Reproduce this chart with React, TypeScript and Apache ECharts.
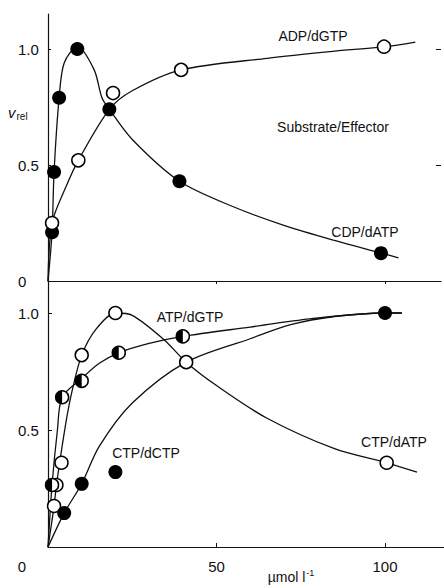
import React, { useEffect, useRef } from "react";
import * as echarts from "echarts";

// ---- Upper panel: CDP/dATP (filled) and ADP/dGTP (open) ----
const topCdpPoints = [[1.2, 0.21], [1.8, 0.47], [3.3, 0.79], [8.7, 1.0], [18.2, 0.74], [39, 0.43], [98.8, 0.12]];
const topAdpPoints = [[1.2, 0.25], [9, 0.52], [19.3, 0.81], [39.5, 0.91], [99.7, 1.01]];
const topCdpCurve = [[0, 0], [1.2, 0.21], [1.8, 0.47], [3.3, 0.79], [4.8, 0.94], [8.7, 1.01], [13.7, 0.91], [16, 0.79], [18.2, 0.74], [25, 0.61], [39, 0.43], [55, 0.32], [70, 0.24], [85, 0.175], [99, 0.12], [104, 0.1]];
const topAdpCurve = [[0, 0], [1.2, 0.25], [5.3, 0.405], [9, 0.52], [18.2, 0.74], [25, 0.82], [39.5, 0.91], [65, 0.96], [84.5, 0.99], [100, 1.01], [109, 1.03]];

// ---- Lower panel: CTP/dATP (open), ATP/dGTP (half), CTP/dCTP (filled) ----
const botOpenPoints = [[1.8, 0.175], [2.5, 0.265], [4, 0.36], [10, 0.82], [20, 1.0], [41, 0.79], [100.5, 0.36]];
const botHalfPoints = [[1.2, 0.265], [4.2, 0.64], [10, 0.71], [21, 0.83], [40, 0.9]];
const botFilledPoints = [[4.8, 0.145], [10, 0.27], [20, 0.32], [100, 1.0]];
const botOpenCurve = [[0, 0], [1.8, 0.175], [2.5, 0.265], [5.3, 0.53], [7.2, 0.67], [10, 0.82], [14.2, 0.93], [20, 1.0], [25, 0.99], [34.5, 0.885], [41, 0.79], [50, 0.69], [65, 0.55], [85, 0.42], [100.5, 0.36], [109.5, 0.32]];
const botHalfCurve = [[0, 0], [1.2, 0.265], [2.8, 0.5], [4.2, 0.64], [10, 0.72], [15.2, 0.785], [21, 0.83], [30, 0.87], [40, 0.9], [60, 0.94], [77.7, 0.975], [100, 1.0], [105, 1.0]];
const botFilledCurve = [[0, 0], [4.8, 0.145], [10, 0.27], [15.2, 0.43], [25, 0.615], [41, 0.79], [60, 0.89], [72, 0.95], [85, 0.985], [100, 1.0], [105, 1.0]];

const yTicksTop = [0, 0.5, 1];
const yTicksBot = [0.5, 1];
const xTicks = [0, 50, 100];

const FONT = "Liberation Sans";
const INK = "#111";

function fmtY(v: number) {
  if (v === 0) return "0";
  return v.toFixed(1);
}

export default function App() {
  const ref = useRef<HTMLDivElement>(null);
  useEffect(() => {
    if (!ref.current) return;
    const chart = echarts.init(ref.current, null, { renderer: "svg" });

    const lineStyle = { color: INK, width: 1.3 };
    const curve = (data: number[][], gi: number) => ({
      type: "line",
      xAxisIndex: gi,
      yAxisIndex: gi === 0 ? 0 : 2,
      data,
      smooth: 0.3,
      symbol: "none",
      lineStyle,
      z: 2,
      silent: true,
    });
    const filled = (data: number[][], gi: number) => ({
      type: "scatter",
      xAxisIndex: gi,
      yAxisIndex: gi === 0 ? 0 : 2,
      data,
      symbol: "circle",
      symbolSize: 14,
      itemStyle: { color: "#000", opacity: 1 },
      z: 4,
    });
    const open = (data: number[][], gi: number) => ({
      type: "scatter",
      xAxisIndex: gi,
      yAxisIndex: gi === 0 ? 0 : 2,
      data,
      symbol: "circle",
      symbolSize: 13,
      itemStyle: { color: "#fff", borderColor: "#000", borderWidth: 1.5, opacity: 1 },
      z: 4,
    });

    const option: any = {
      animation: false,
      backgroundColor: "#fff",
      textStyle: { fontFamily: FONT },
      grid: [
        { left: 48, top: 14, width: 393, height: 276 },
        { left: 48, top: 290, width: 396, height: 257 },
      ],
      xAxis: [
        {
          gridIndex: 0,
          type: "value",
          position: "top",
          min: 0,
          max: 393 / 3.37,
          axisLine: { show: true, lineStyle: { color: INK, width: 1.2 } },
          axisTick: { show: true, inside: true, length: 3, customValues: [50, 100], lineStyle: { color: INK } },
          axisLabel: { show: false },
          splitLine: { show: false },
        },
        {
          gridIndex: 1,
          type: "value",
          position: "bottom",
          min: 0,
          max: 396 / 3.37,
          axisLine: { show: true, lineStyle: { color: INK, width: 1.2 } },
          axisTick: { show: true, inside: true, length: 4, customValues: [50, 100], lineStyle: { color: INK } },
          axisLabel: {
            show: true,
            customValues: xTicks,
            margin: 12,
            fontSize: 15,
            color: INK,
            fontFamily: FONT,
            formatter: (v: number) => (v === 0 ? "{z|0}" : String(v)),
            rich: { z: { fontSize: 15, color: INK, fontFamily: FONT, padding: [0, 52, 0, 0] } },
          },
          splitLine: { show: false },
        },
      ],
      yAxis: [
        {
          gridIndex: 0,
          type: "value",
          position: "left",
          min: -9 / 232,
          max: 267 / 232,
          axisLine: { show: true, lineStyle: { color: INK, width: 1.2 } },
          axisTick: { show: true, inside: true, length: 3, customValues: [0.5, 1], lineStyle: { color: INK } },
          axisLabel: {
            show: true,
            customValues: yTicksTop,
            align: "left",
            margin: 30,
            fontSize: 15,
            color: INK,
            fontFamily: FONT,
            formatter: fmtY,
          },
          splitLine: { show: false },
        },
        {
          gridIndex: 0,
          type: "value",
          position: "right",
          min: -9 / 232,
          max: 267 / 232,
          axisLine: { show: false },
          axisTick: { show: true, inside: true, length: 5, customValues: yTicksTop, lineStyle: { color: INK } },
          axisLabel: { show: false },
          splitLine: { show: false },
        },
        {
          gridIndex: 1,
          type: "value",
          position: "left",
          min: 0,
          max: 257 / 234,
          axisLine: { show: true, lineStyle: { color: INK, width: 1.2 } },
          axisTick: { show: true, inside: true, length: 4, customValues: yTicksBot, lineStyle: { color: INK } },
          axisLabel: {
            show: true,
            customValues: yTicksBot,
            align: "left",
            margin: 30,
            fontSize: 15,
            color: INK,
            fontFamily: FONT,
            formatter: fmtY,
          },
          splitLine: { show: false },
        },
      ],
      series: [
        curve(topCdpCurve, 0),
        curve(topAdpCurve, 0),
        curve(botOpenCurve, 1),
        curve(botHalfCurve, 1),
        curve(botFilledCurve, 1),
        filled(topCdpPoints, 0),
        open(topAdpPoints, 0),
        open(botOpenPoints, 1),
        filled(botFilledPoints, 1),
        {
          type: "custom",
          xAxisIndex: 1,
          yAxisIndex: 2,
          data: botHalfPoints,
          encode: { x: 0, y: 1 },
          z: 5,
          renderItem: (params: any, api: any) => {
            const p = api.coord([api.value(0), api.value(1)]);
            const r = 6.5;
            return {
              type: "group",
              children: [
                { type: "circle", shape: { cx: p[0], cy: p[1], r }, style: { fill: "#fff", stroke: "#000", lineWidth: 1.5 } },
                {
                  type: "sector",
                  shape: { cx: p[0], cy: p[1], r0: 0, r, startAngle: Math.PI / 2, endAngle: Math.PI * 1.5, clockwise: true },
                  style: { fill: "#000" },
                },
              ],
            };
          },
        },
      ],
      graphic: [
        { type: "text", x: 313, y: 36, style: { text: "ADP/dGTP", font: `14px "${FONT}"`, fill: INK, align: "center", verticalAlign: "middle" } },
        { type: "text", x: 333, y: 127, style: { text: "Substrate/Effector", font: `14px "${FONT}"`, fill: INK, align: "center", verticalAlign: "middle" } },
        { type: "text", x: 365, y: 232, style: { text: "CDP/dATP", font: `14px "${FONT}"`, fill: INK, align: "center", verticalAlign: "middle" } },
        { type: "text", x: 190, y: 317, style: { text: "ATP/dGTP", font: `14px "${FONT}"`, fill: INK, align: "center", verticalAlign: "middle" } },
        { type: "text", x: 146, y: 453, style: { text: "CTP/dCTP", font: `14px "${FONT}"`, fill: INK, align: "center", verticalAlign: "middle" } },
        { type: "text", x: 394, y: 442, style: { text: "CTP/dATP", font: `14px "${FONT}"`, fill: INK, align: "center", verticalAlign: "middle" } },
        {
          type: "text",
          x: 8,
          y: 112,
          style: {
            text: "{v|v}{s|rel}",
            verticalAlign: "middle",
            rich: {
              v: { fontSize: 15, fontStyle: "italic", fontFamily: FONT, fill: INK, color: INK },
              s: { fontSize: 10, fontFamily: FONT, fill: INK, color: INK, padding: [8, 0, 0, 1] },
            },
          },
        },
        {
          type: "text",
          x: 291,
          y: 577,
          style: {
            text: "{m|µmol l}{e|-1}",
            align: "center",
            verticalAlign: "middle",
            rich: {
              m: { fontSize: 14, fontFamily: FONT, fill: INK, color: INK },
              e: { fontSize: 9, fontFamily: FONT, fill: INK, color: INK, padding: [0, 0, 8, 1] },
            },
          },
        },
      ],
    };
    chart.setOption(option);
    return () => chart.dispose();
  }, []);
  return (
    <div
      ref={ref}
      style={{ position: "fixed", left: 0, top: 0, width: 444, height: 588, background: "#fff" }}
    />
  );
}
